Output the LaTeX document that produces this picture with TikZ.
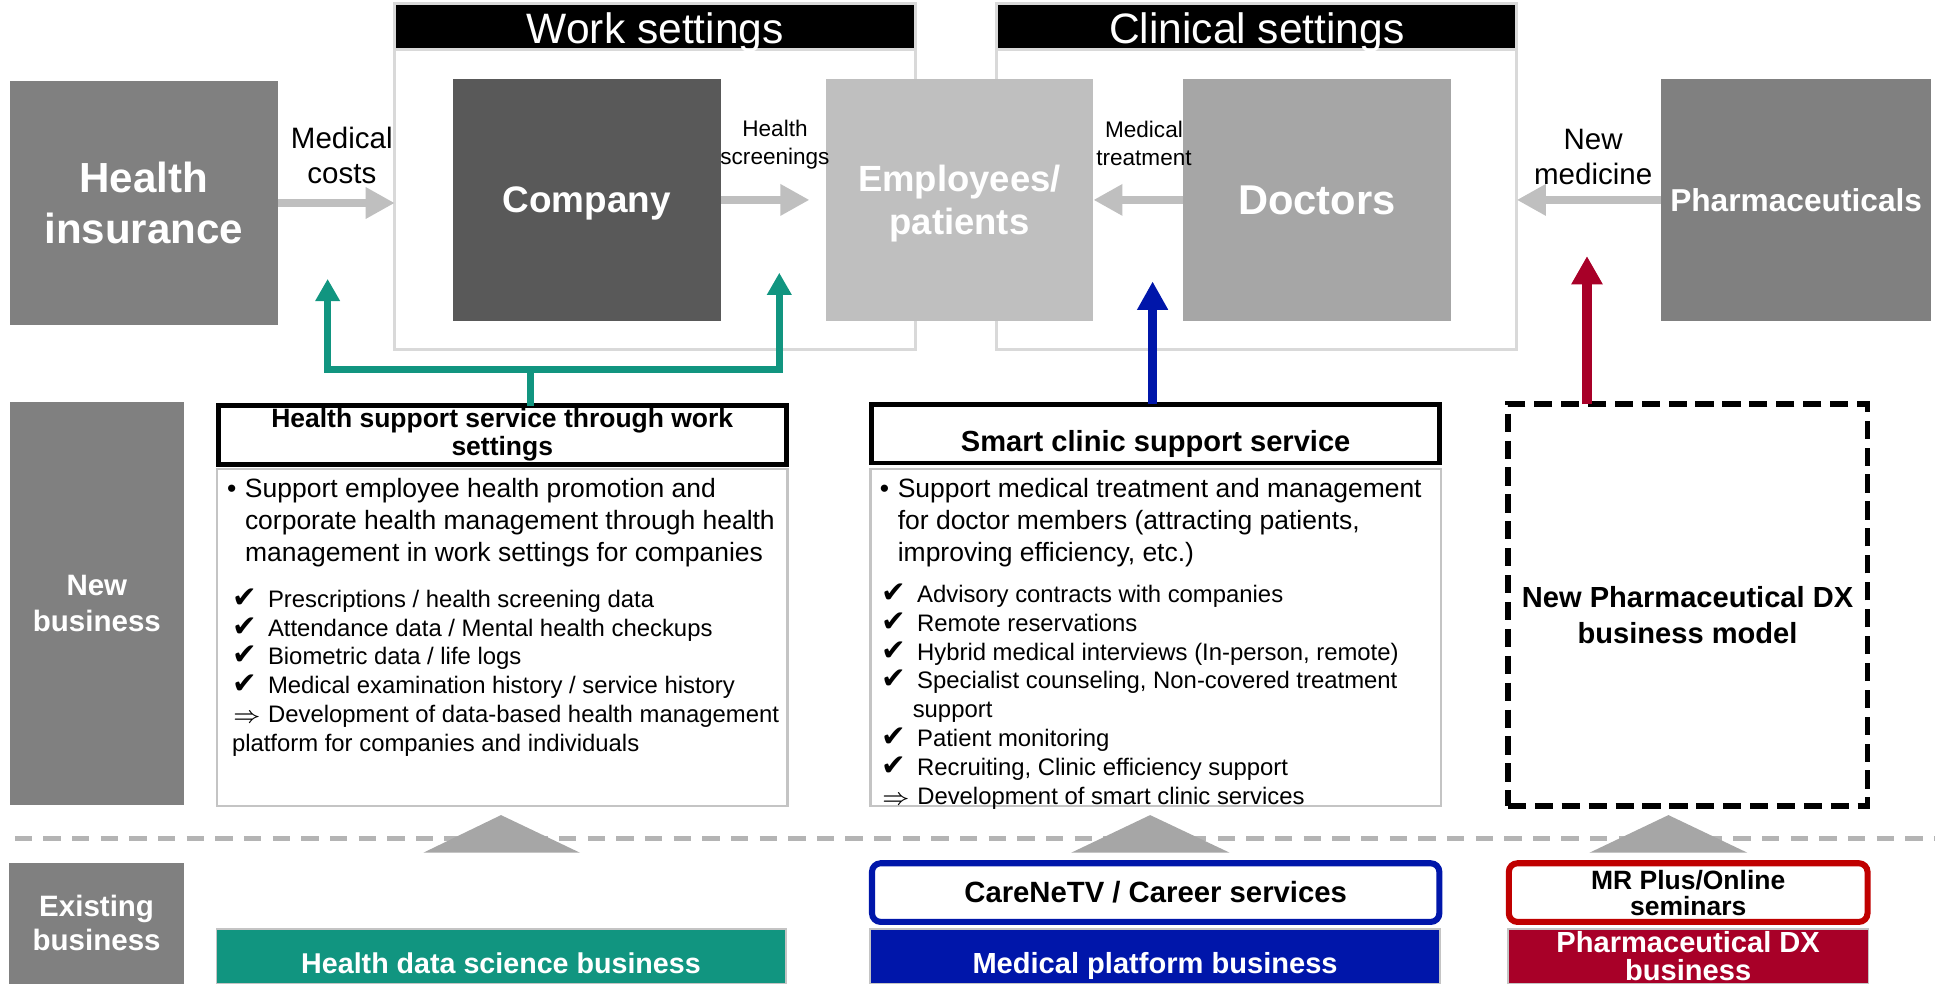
\documentclass[tikz,border=0pt]{standalone}
\usepackage{fontspec}
\setmainfont{Liberation Sans}
\newfontfamily\symfont{DejaVu Sans}
\usetikzlibrary{arrows.meta}

\definecolor{boxdark}{HTML}{595959}
\definecolor{boxmid}{HTML}{808080}
\definecolor{boxdoc}{HTML}{A6A6A6}
\definecolor{boxlight}{HTML}{BFBFBF}
\definecolor{framegray}{HTML}{D9D9D9}
\definecolor{listgray}{HTML}{C4C4C4}
\definecolor{hdsgreen}{RGB}{17,149,128}
\definecolor{mpblue}{RGB}{0,22,170}
\definecolor{dxred}{RGB}{168,0,40}
\definecolor{mrred}{RGB}{192,0,0}
\definecolor{trigray}{HTML}{A6A6A6}
\definecolor{divgray}{HTML}{B4B4B4}

\newcommand{\fsz}[2]{\fontsize{#1}{#2}\selectfont}
\newcommand{\chk}{{\symfont\fontsize{6.8}{6.66}\selectfont ✔}}

\begin{document}
\begin{tikzpicture}[x=0.01cm, y=-0.01cm,
        every node/.style={inner sep=0, outer sep=0},
        party/.style={text=white, font=\bfseries, align=center, minimum width=2.17cm, minimum height=1.96cm},
        frame/.style={draw=framegray, line width=0.7pt, fill=white},
        framehead/.style={draw=framegray, line width=0.7pt, fill=black, text=white, font=\fsz{9.8}{11}, text height=7.8pt, text depth=0pt},
        flowlabel/.style={align=center},
        flow/.style={draw=boxlight, line width=0.068cm, -{Triangle[length=0.235cm, width=0.24cm]}},
        sidebar/.style={fill=boxmid, text=white, align=center, font=\bfseries\fsz{6.8}{8.5}},
        headbox/.style={draw=black, line width=1.1pt, fill=white, align=center, minimum width=4.6cm, minimum height=0.475cm},
        listbox/.style={draw=listgray, line width=0.6pt, fill=white, minimum width=4.62cm, minimum height=2.73cm},
        dxbox/.style={draw=black, line width=1.2pt, dash pattern=on 4.2pt off 2pt},
        servbox/.style={line width=1.4pt, fill=white, rounded corners=0.07cm, minimum height=0.475cm, align=center},
        bizbar/.style={draw=listgray, line width=0.4pt, text=white, align=center, minimum height=0.44cm, font=\bfseries\fsz{6.7}{6.5}},
        lowtext/.style={text height=8pt, text depth=0pt},
        greenarr/.style={draw=hdsgreen, line width=0.055cm, -{Triangle[length=0.18cm, width=0.19cm]}},
        bluearr/.style={draw=mpblue, line width=0.075cm, -{Triangle[length=0.23cm, width=0.235cm]}},
        redarr/.style={draw=dxred, line width=0.08cm, -{Triangle[length=0.23cm, width=0.24cm]}},
        tri/.style={fill=trigray},
        divider/.style={draw=divgray, line width=1pt, dash pattern=on 4pt off 2.6pt}]
        \useasboundingbox (0,0) rectangle (1568,800);

        % settings frames
        \node[frame, minimum width=4.22cm, minimum height=2.80cm] (workframe) at (531,143) {};
        \node[framehead, minimum width=4.22cm, minimum height=0.37cm] (workhead) at (531,21.5) {Work settings};
        \node[frame, minimum width=4.21cm, minimum height=2.80cm] (clinframe) at (1018.5,143) {};
        \node[framehead, minimum width=4.21cm, minimum height=0.37cm] (clinhead) at (1018.5,21.5) {Clinical settings};

        % parties
        \node[party, fill=boxmid, minimum height=1.97cm, font=\bfseries\fsz{9.7}{11.7}] (insurer) at (116.5,164.5) {Health\\insurance};
        \node[party, fill=boxdark, font=\bfseries\fsz{8.5}{10}, text depth=0pt] (company) at (475.5,162) {Company};
        \node[party, fill=boxlight, font=\bfseries\fsz{8.4}{10}, text depth=0pt] (employees) at (777.5,162) {Employees/\\patients};
        \node[party, fill=boxdoc, font=\bfseries\fsz{9.6}{11}] (doctors) at (1067,162) {Doctors};
        \node[party, fill=boxmid, minimum width=2.19cm, font=\bfseries\fsz{7.3}{9}] (pharma) at (1455.5,162) {Pharmaceuticals};

        % flows
        \node[flowlabel, font=\fsz{6.8}{8}] (costlbl) at (277,126) {Medical\\costs};
        \node[flowlabel, font=\fsz{5.2}{6.5}] (screenlbl) at (628,117.5) {Health\\screenings};
        \node[flowlabel, font=\fsz{5.2}{6.5}] (treatlbl) at (927,116) {Medical\\treatment};
        \node[flowlabel, font=\fsz{6.8}{8}] (medlbl) at (1291,127.5) {New\\medicine};
        \draw[flow] (insurer.east) -- (insurer.east -| workframe.west);
        \draw[flow, shorten >=0.13cm] (company.east) -- (employees.west);
        \draw[flow] (doctors.west) -- (employees.east);
        \draw[flow] (pharma.west) -- (pharma.west -| clinframe.east);

        % new business
        \node[sidebar, minimum width=1.41cm, minimum height=3.26cm] (newbiz) at (78.5,489) {New\\business};

        \node[headbox, font=\bfseries\fsz{6.1}{6.5}] (hshead) at (407,352.5) {Health support service through work\\settings};
        \node[listbox] (hsbody) at (407,516.5) {};
        \node[anchor=base west, font=\fsz{6.1}{7.4}] (hsaim) at (184,403) {\begin{tabular}[t]{@{}l@{\hspace{2pt}}l@{}}
                \textbullet & Support employee health promotion and\\
                & corporate health management through health\\
                & management in work settings for companies
                \end{tabular}};
        \node[anchor=base west, font=\fsz{5.5}{6.66}] (hsdata) at (188,492) {\begin{tabular}[t]{@{}l@{\hspace{2.6pt}}l@{}}
                \chk & Prescriptions / health screening data\\
                \chk & Attendance data / Mental health checkups\\
                \chk & Biometric data / life logs\\
                \chk & Medical examination history / service history\\
                \multicolumn{2}{@{}l@{}}{$\Rightarrow$ Development of data-based health management}\\
                \multicolumn{2}{@{}l@{}}{platform for companies and individuals}
                \end{tabular}};

        \node[headbox, font=\bfseries\fsz{6.7}{8}, text height=8pt, text depth=0pt] (schead) at (936.5,351.5) {Smart clinic support service};
        \node[listbox] (scbody) at (936.5,516.5) {};
        \node[anchor=base west, font=\fsz{6.1}{7.4}] (scaim) at (713,403) {\begin{tabular}[t]{@{}l@{\hspace{2pt}}l@{}}
                \textbullet & Support medical treatment and management\\
                & for doctor members (attracting patients,\\
                & improving efficiency, etc.)
                \end{tabular}};
        \node[anchor=base west, font=\fsz{5.5}{6.66}] (scdata) at (714,488) {\begin{tabular}[t]{@{}l@{\hspace{2.6pt}}l@{}}
                \chk & Advisory contracts with companies\\
                \chk & Remote reservations\\
                \chk & Hybrid medical interviews (In-person, remote)\\
                \chk & Specialist counseling, Non-covered treatment\\
                & \hspace{-1pt}support\\
                \chk & Patient monitoring\\
                \chk & Recruiting, Clinic efficiency support\\
                \multicolumn{2}{@{}l@{}}{$\Rightarrow$ Development of smart clinic services}
                \end{tabular}};

        \node[dxbox, minimum width=2.91cm, minimum height=3.255cm] (dxmodel) at (1367.5,490.3) {};
        \node[align=center, font=\bfseries\fsz{6.7}{8.25}] (dxtext) at ([yshift=-0.08cm]dxmodel.center) {New Pharmaceutical DX\\business model};

        % links to the parties
        \coordinate (gjoin) at (430,299.5);
        \coordinate (gleft) at (265.5,226);
        \coordinate (gright) at (631.5,221);
        \coordinate (btip) at (934,228);
        \coordinate (rtip) at (1286,207.5);
        \draw[greenarr] (gjoin |- hshead.north) -- (gjoin) -| (gleft);
        \draw[greenarr] (gjoin) -| (gright);
        \draw[bluearr] (btip |- schead.north) -- (btip);
        \draw[redarr] (rtip |- dxmodel.north) -- (rtip);

        % divider and growth triangles
        \draw[divider] (12,679.4) -- (1568,679.4);
        \fill[tri] (343,691) -- (406,660.5) -- (470,691) -- cycle;
        \fill[tri] (868,691) -- (932,660.5) -- (996.5,691) -- cycle;
        \fill[tri] (1288,691) -- (1352,660.5) -- (1416,691) -- cycle;

        % existing business
        \node[sidebar, minimum width=1.415cm, minimum height=0.98cm, font=\bfseries\fsz{6.8}{7.7}] (oldbiz) at (78.3,748) {Existing\\business};
        \node[bizbar, lowtext, fill=hdsgreen, minimum width=4.61cm, font=\bfseries\fsz{6.6}{7}] (hdsbiz) at (406,775) {Health data science business};
        \node[servbox, draw=mpblue, minimum width=4.595cm, font=\bfseries\fsz{6.75}{8}] (carenetv) at (936.5,723.3) {CareNeTV / Career services};
        \node[bizbar, lowtext, fill=mpblue, minimum width=4.62cm] (mpbiz) at (936,775) {Medical platform business};
        \node[servbox, draw=mrred, minimum width=2.905cm, font=\bfseries\fsz{6.1}{6}] (mrplus) at (1368,723.3) {MR Plus/Online\\seminars};
        \node[bizbar, fill=dxred, minimum width=2.92cm] (dxbiz) at (1368,775) {Pharmaceutical DX\\business};
\end{tikzpicture}
\end{document}
